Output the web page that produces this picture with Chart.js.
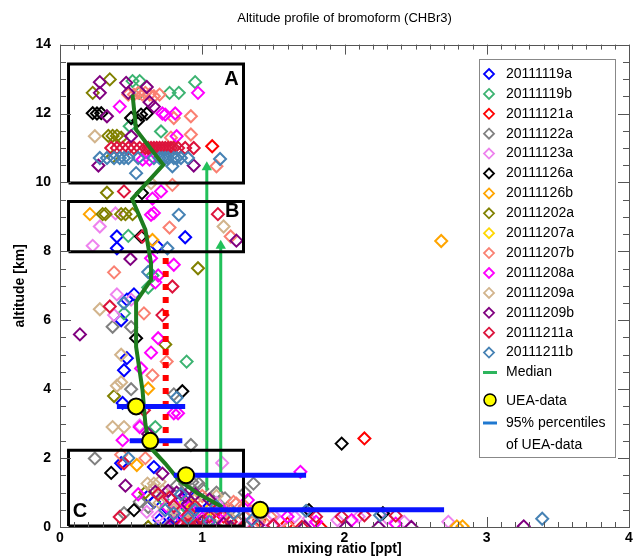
<!DOCTYPE html>
<html>
<head>
<meta charset="utf-8">
<script src="https://cdn.jsdelivr.net/npm/chart.js@4.4.1/dist/chart.umd.min.js"></script>
<style>
  body { margin: 0; background: #fff; }
  canvas { display: block; }
</style>
</head>
<body>
<canvas id="chart" width="639" height="558"></canvas>
<script>
// flight series, [mixing ratio ppt, altitude km]
const s20111119a = [[0.40,8.43],[0.40,8.09],[0.88,8.41],[0.685,8.14],[0.52,6.75],[0.43,6.0],[0.47,6.6],[0.45,4.55],[0.47,4.9],[0.44,3.6],[0.43,1.85],[0.66,1.74],[0.66,0.73],[0.85,0.8],[0.99,0.4],[0.88,0.6],[0.8,0.25],[0.95,0.1],[0.62,0.9],[0.75,0.55],[0.7,0.2],[1.05,0.6],[0.9,1.0]];
const s20111119b = [[0.51,12.94],[0.56,12.94],[0.77,12.6],[0.835,12.6],[0.95,12.91],[0.71,11.48],[0.56,12.6],[0.49,11.63],[0.48,8.45],[0.45,6.2],[0.89,4.8],[0.65,7.3],[0.62,6.95],[0.72,0.8],[0.9,0.5],[0.67,2.9]];
const s20111121a = [[1.07,11.05],[2.14,2.57],[0.8,0.4],[1.15,0.3],[1.4,0.2],[1.6,0.1],[1.83,0.0],[0.95,0.05],[1.25,0.15]];
const s20111122a = [[0.37,5.81],[0.5,5.8],[0.5,4.0],[0.80,3.85],[0.92,2.38],[0.245,1.99],[0.56,0.73],[0.62,0.58],[1.36,1.26],[0.975,1.26],[0.93,1.3],[1.3,1.0],[1.16,0.83],[0.45,0.4],[0.69,0.0],[0.76,0.0],[1.3,0.3],[0.82,1.2],[1.0,1.1],[1.1,1.0],[0.88,1.25],[1.2,0.5],[1.05,0.2]];
const s20111123a = [[0.28,8.72],[0.23,8.16],[0.39,9.1],[0.40,6.75],[0.38,6.15],[0.56,2.95],[1.14,1.86],[0.5,6.6],[2.73,0.15],[1.45,0.2],[1.4,0.3],[1.65,0.3],[1.75,0.25],[1.95,0.2],[2.1,0.3],[2.3,0.25],[2.42,0.15],[1.0,0.4],[0.61,0.44],[0.69,0.3],[1.3,0.1],[0.8,0.6],[0.9,0.3],[1.1,0.7],[1.2,0.15],[0.75,1.0],[1.5,0.35],[1.55,0.15]];
const s20111126a = [[0.23,12.01],[0.26,12.0],[0.29,12.01],[0.5,11.87],[0.57,11.97],[0.61,12.0],[0.55,11.8],[0.576,9.69],[0.57,8.43],[0.535,5.48],[0.86,3.94],[0.36,1.57],[0.52,0.49],[1.98,2.42],[1.75,0.49],[2.27,0.4]];
const s20111126b = [[0.21,9.08],[0.65,8.33],[2.68,8.3],[0.62,4.02],[0.54,1.8],[2.79,0.02],[2.83,0.02],[0.93,0.63]];
const s20111202a = [[0.35,12.99],[0.23,12.6],[0.34,11.35],[0.37,11.35],[0.40,11.35],[0.43,11.3],[0.37,10.75],[0.33,9.7],[0.30,9.08],[0.32,9.08],[0.43,9.08],[0.46,9.08],[0.51,9.08],[0.97,7.51],[0.74,5.3],[0.38,3.8],[0.62,0.0],[0.6,1.0]];
const s20111207a = [[0.95,0.3],[1.05,0.5],[0.88,0.7]];
const s20111207b = [[0.48,12.55],[0.52,12.55],[0.55,12.6],[0.58,12.55],[0.6,12.6],[0.63,12.55],[0.66,12.5],[0.7,12.55],[0.80,11.87],[0.92,11.92],[0.92,11.39],[0.78,11.3],[1.10,10.47],[0.79,9.93],[0.77,8.69],[1.2,8.43],[0.38,7.39],[0.59,6.2],[0.75,4.8],[0.65,4.4],[0.43,2.1],[1.22,0.73],[1.3,0.6],[1.24,0.68],[1.17,0.49],[1.48,0.3],[1.61,0.0],[0.6,2.0],[1.05,0.35],[1.15,0.15],[1.35,0.45],[1.0,0.9],[0.9,0.15],[1.4,0.15]];
const s20111208a = [[0.97,12.6],[0.42,12.2],[0.74,11.97],[0.81,12.0],[0.72,12.0],[0.82,11.34],[0.58,10.66],[0.63,10.66],[0.71,9.74],[0.65,9.53],[0.64,9.06],[0.66,9.11],[0.80,7.61],[0.67,7.1],[0.69,7.3],[0.64,7.8],[0.69,5.48],[0.64,5.06],[0.57,4.6],[0.80,3.3],[0.83,3.3],[0.56,2.9],[0.44,2.52],[1.69,1.6],[1.5,0.05],[2.36,0.1],[2.05,0.2],[0.85,0.78],[0.91,0.58],[0.86,0.44],[1.32,0.78],[1.1,0.2],[0.55,0.95],[0.75,0.6],[1.0,0.25],[1.15,0.45],[0.8,0.15],[1.6,0.3],[1.8,0.15]];
const s20111209a = [[0.245,11.34],[0.64,9.98],[1.15,8.72],[0.28,6.32],[0.43,4.2],[0.37,2.9],[0.45,2.9],[0.43,5.0],[0.615,1.26],[0.66,1.26],[0.70,1.31],[0.65,1.1],[0.72,1.05],[0.9,0.2],[1.4,0.3],[0.4,4.1],[0.8,0.5],[0.95,0.8],[1.1,0.9],[0.7,0.7],[1.2,0.25]];
const s20111209b = [[0.28,12.91],[0.465,12.89],[0.61,12.77],[0.28,12.6],[0.48,12.6],[0.63,12.33],[0.66,12.2],[0.33,11.92],[0.5,11.34],[0.94,10.49],[0.27,10.49],[1.24,8.31],[0.495,7.78],[0.14,5.59],[0.72,1.55],[0.46,1.2],[0.67,1.02],[0.76,1.05],[0.82,1.0],[0.88,0.9],[1.39,0.05],[1.72,0.0],[2.01,0.0],[2.24,0.0],[2.47,0.0],[3.26,0.02],[1.15,0.1],[0.62,2.7],[0.95,0.95],[1.05,0.8],[0.9,0.65],[1.0,0.15],[0.78,0.05],[1.2,0.0]];
const s20111211a = [[0.36,11.0],[0.40,11.0],[0.44,11.0],[0.48,11.0],[0.52,11.0],[0.56,11.0],[0.6,11.0],[0.62,11.0],[0.64,11.0],[0.66,11.0],[0.68,11.0],[0.7,11.0],[0.72,11.0],[0.74,11.0],[0.76,11.0],[0.78,11.0],[0.8,11.0],[0.83,11.0],[0.88,11.0],[0.94,11.0],[0.45,9.74],[1.11,9.08],[0.58,8.43],[0.79,6.98],[0.35,6.4],[0.72,6.15],[0.59,3.39],[0.45,1.85],[0.42,0.29],[0.69,0.95],[0.77,0.85],[1.11,0.53],[0.95,0.6],[1.8,0.3],[1.98,0.3],[2.14,0.34],[2.36,0.33],[1.7,0.0],[0.85,0.05],[0.88,0.0],[0.9,0.05],[0.93,0.0],[0.96,0.05],[1.0,0.0],[0.8,0.6],[1.05,0.3],[1.2,0.15],[0.9,0.35],[1.3,0.05],[1.5,0.05]];
const s20111211b = [[0.28,10.71],[0.33,10.71],[0.38,10.71],[0.42,10.71],[0.45,10.71],[0.48,10.71],[0.55,10.71],[0.66,10.71],[0.7,10.71],[0.72,10.71],[0.74,10.71],[0.76,10.71],[0.79,10.47],[0.8,10.71],[0.82,10.71],[0.85,10.71],[0.9,10.71],[1.125,10.68],[0.535,10.27],[0.835,9.06],[0.755,8.09],[0.62,7.4],[0.82,3.75],[0.48,2.0],[0.74,0.49],[0.95,0.5],[0.8,0.39],[1.22,0.4],[1.73,0.47],[2.25,0.34],[3.39,0.24],[0.45,6.5],[0.9,0.25],[1.1,0.6],[1.05,0.15],[0.85,0.95],[1.35,0.2]];

const seriesNames = ['20111119a','20111119b','20111121a','20111122a','20111123a','20111126a','20111126b','20111202a','20111207a','20111207b','20111208a','20111209a','20111209b','20111211a','20111211b'];
const seriesPoints = [s20111119a,s20111119b,s20111121a,s20111122a,s20111123a,s20111126a,s20111126b,s20111202a,s20111207a,s20111207b,s20111208a,s20111209a,s20111209b,s20111211a,s20111211b];
const seriesColors = ['#0000ff','#3cb371','#ff0000','#808080','#ee82ee','#000000','#ffa500','#808000','#ffd700','#fa8072','#ff00ff','#d2b48c','#800080','#dc143c','#4682b4'];

// median profile
const medianX = [0.51,0.535,0.726,0.507,0.60,0.64,0.64,0.535,0.535,0.58,0.60,0.63,0.74,0.835,0.97,1.14];
const medianY = [12.55,11.53,10.51,9.52,8.63,7.66,7.17,6.54,5.23,3.97,3.0,2.33,1.84,1.36,0.97,0.58];

// UEA data with 95% percentiles
const ueaY = [3.5,2.5,1.5,0.5];
const ueaX = [0.535,0.634,0.886,1.407];
const ueaLow = [0.40,0.49,0.80,0.95];
const ueaHigh = [0.88,0.86,1.73,2.70];

// boxes A, B, C  [xmin, xmax, ymin, ymax]
const boxNames = ['A','B','C'];
const boxes = [[0.06,1.29,9.98,13.44],[0.06,1.29,7.99,9.45],[0.06,1.29,0.03,2.23]];
const boxLabelPos = [[1.205,12.99],[1.21,9.16],[0.14,0.44]];

// arrows [x, yBottom, yTop]
const arrows = [[1.032,1.07,10.44],[1.13,1.02,8.16]];
// red dotted line
const redDotX = 0.743;
const redDotY = [2.35,7.82];

const datasets = [];
seriesPoints.forEach((pts, i) => {
  datasets.push({
    label: seriesNames[i],
    data: pts.map(p => ({x: p[0], y: p[1]})),
    pointStyle: 'rectRot',
    pointRadius: 6,
    pointBorderWidth: 2,
    borderColor: seriesColors[i],
    backgroundColor: 'rgba(0,0,0,0)',
    clip: 0,
    order: 100 - i
  });
});

boxes.forEach(b => {
  datasets.push({
    data: [{x:b[0],y:b[2]},{x:b[1],y:b[2]},{x:b[1],y:b[3]},{x:b[0],y:b[3]},{x:b[0],y:b[2]}],
    showLine: true, borderColor: '#000', borderWidth: 3, pointRadius: 0, order: 3
  });
});

arrows.forEach(a => {
  datasets.push({
    data: [{x:a[0],y:a[1]},{x:a[0],y:a[2]}],
    showLine: true, borderColor: '#22c05a', borderWidth: 3,
    pointStyle: 'triangle', pointRadius: [0, 6], pointBorderWidth: 0,
    pointBackgroundColor: '#22c05a', order: 4
  });
});

datasets.push({
  data: redDotY.map(v => ({x: redDotX, y: v})),
  showLine: true, borderColor: '#ff0000', borderWidth: 6, borderDash: [6, 7],
  pointRadius: 0, order: 5
});

datasets.push({
  label: 'Median',
  data: medianX.map((v, i) => ({x: v, y: medianY[i]})),
  showLine: true, borderColor: '#1e7d1e', borderWidth: 4, pointRadius: 0, order: 2
});

ueaY.forEach((v, i) => {
  datasets.push({
    data: [{x: ueaLow[i], y: v},{x: ueaHigh[i], y: v}],
    showLine: true, borderColor: '#0a14ff', borderWidth: 5, pointRadius: 0, order: 1
  });
});

datasets.push({
  label: 'UEA-data',
  data: ueaX.map((v, i) => ({x: v, y: ueaY[i]})),
  pointStyle: 'circle', pointRadius: 8, pointBorderWidth: 2,
  borderColor: '#000', backgroundColor: '#ffff00', order: 0
});

const FONT = '"Liberation Sans", Arial, sans-serif';

// frame with inward ticks on all four sides, box labels
const frameTicks = {
  id: 'frameTicks',
  afterDatasetsDraw(chart) {
    const {ctx, chartArea: a, scales: {x, y}} = chart;
    ctx.save();
    ctx.strokeStyle = '#555';
    ctx.lineWidth = 1;
    ctx.strokeRect(Math.round(a.left) + 0.5, Math.round(a.top) + 0.5, Math.round(a.right - a.left), Math.round(a.bottom - a.top));
    ctx.beginPath();
    for (let i = 0; i <= 40; i++) {
      const px = Math.round(x.getPixelForValue(i / 10)) + 0.5;
      const len = i % 10 === 0 ? 10 : 5;
      ctx.moveTo(px, a.bottom); ctx.lineTo(px, a.bottom - len);
      ctx.moveTo(px, a.top); ctx.lineTo(px, a.top + len);
    }
    for (let i = 0; i <= 28; i++) {
      const py = Math.round(y.getPixelForValue(i / 2)) + 0.5;
      const len = i % 4 === 0 ? 11 : 6;
      ctx.moveTo(a.left, py); ctx.lineTo(a.left + len, py);
      ctx.moveTo(a.right, py); ctx.lineTo(a.right - len, py);
    }
    ctx.stroke();

    ctx.fillStyle = '#000';
    ctx.font = 'bold 20px ' + FONT;
    ctx.textAlign = 'center';
    ctx.textBaseline = 'middle';
    boxNames.forEach((n, i) => {
      ctx.fillText(n, x.getPixelForValue(boxLabelPos[i][0]), y.getPixelForValue(boxLabelPos[i][1]));
    });
    ctx.restore();
  }
};

// legend box in the upper right of the plot
const legendBox = {
  id: 'legendBox',
  afterDraw(chart) {
    const {ctx, chartArea: a} = chart;
    const left = Math.round(a.right - 150), top = Math.round(a.top + 14);
    const w = 136, h = 398;
    ctx.save();
    ctx.fillStyle = '#fff';
    ctx.fillRect(left, top, w, h);
    ctx.strokeStyle = '#888';
    ctx.lineWidth = 1;
    ctx.strokeRect(left + 0.5, top + 0.5, w, h);

    const mx = left + 10, tx = left + 27;
    ctx.font = '14px ' + FONT;
    ctx.textBaseline = 'middle';
    ctx.textAlign = 'left';
    let yy = top + 15;
    seriesNames.forEach((n, i) => {
      ctx.beginPath();
      ctx.moveTo(mx, yy - 5); ctx.lineTo(mx + 5, yy); ctx.lineTo(mx, yy + 5); ctx.lineTo(mx - 5, yy);
      ctx.closePath();
      ctx.strokeStyle = seriesColors[i];
      ctx.lineWidth = 1.8;
      ctx.stroke();
      ctx.fillStyle = '#000';
      ctx.fillText(n, tx, yy);
      yy += 19.9;
    });
    // median
    ctx.strokeStyle = '#2db55d';
    ctx.lineWidth = 3;
    ctx.beginPath(); ctx.moveTo(mx - 6, yy); ctx.lineTo(mx + 8, yy); ctx.stroke();
    ctx.fillText('Median', tx, yy);
    yy += 28.5;
    // UEA-data
    ctx.beginPath(); ctx.arc(mx + 1, yy - 1, 6, 0, Math.PI * 2);
    ctx.fillStyle = '#ffff00'; ctx.fill();
    ctx.strokeStyle = '#000'; ctx.lineWidth = 1.5; ctx.stroke();
    ctx.fillStyle = '#000';
    ctx.fillText('UEA-data', tx, yy);
    yy += 22;
    ctx.strokeStyle = '#1f78d0';
    ctx.lineWidth = 3;
    ctx.beginPath(); ctx.moveTo(mx - 6, yy); ctx.lineTo(mx + 8, yy); ctx.stroke();
    ctx.fillText('95% percentiles', tx, yy);
    yy += 22;
    ctx.fillText('of UEA-data', tx, yy);
    ctx.restore();
  }
};

new Chart(document.getElementById('chart'), {
  type: 'scatter',
  data: { datasets },
  options: {
    responsive: false,
    animation: false,
    devicePixelRatio: 1,
    layout: { padding: { right: 3, left: 0 } },
    plugins: {
      legend: { display: false },
      tooltip: { enabled: false },
      title: {
        display: true,
        fullSize: false,
        text: 'Altitude profile of bromoform (CHBr3)',
        color: '#000',
        font: { family: FONT, size: 13, weight: 'normal' },
        padding: { top: 11, bottom: 18 }
      }
    },
    scales: {
      x: {
        type: 'linear', min: 0, max: 4,
        afterFit: s => { s.height = 31; },
        grid: { display: false, drawTicks: false },
        border: { display: false },
        ticks: { stepSize: 1, padding: 3, color: '#000', font: { family: FONT, size: 14, weight: 'bold' } },
        title: { display: true, text: 'mixing ratio [ppt]', color: '#000', padding: 0, font: { family: FONT, size: 14, weight: 'bold' } }
      },
      y: {
        type: 'linear', min: 0, max: 14,
        afterFit: s => { s.width = 60; },
        grid: { display: false, drawTicks: false },
        border: { display: false },
        ticks: { stepSize: 2, padding: 9, color: '#000', font: { family: FONT, size: 14, weight: 'bold' } },
        title: { display: true, text: 'altitude [km]', color: '#000', padding: { top: 12, bottom: 0 }, font: { family: FONT, size: 14, weight: 'bold' } }
      }
    }
  },
  plugins: [frameTicks, legendBox]
});
</script>
</body>
</html>
